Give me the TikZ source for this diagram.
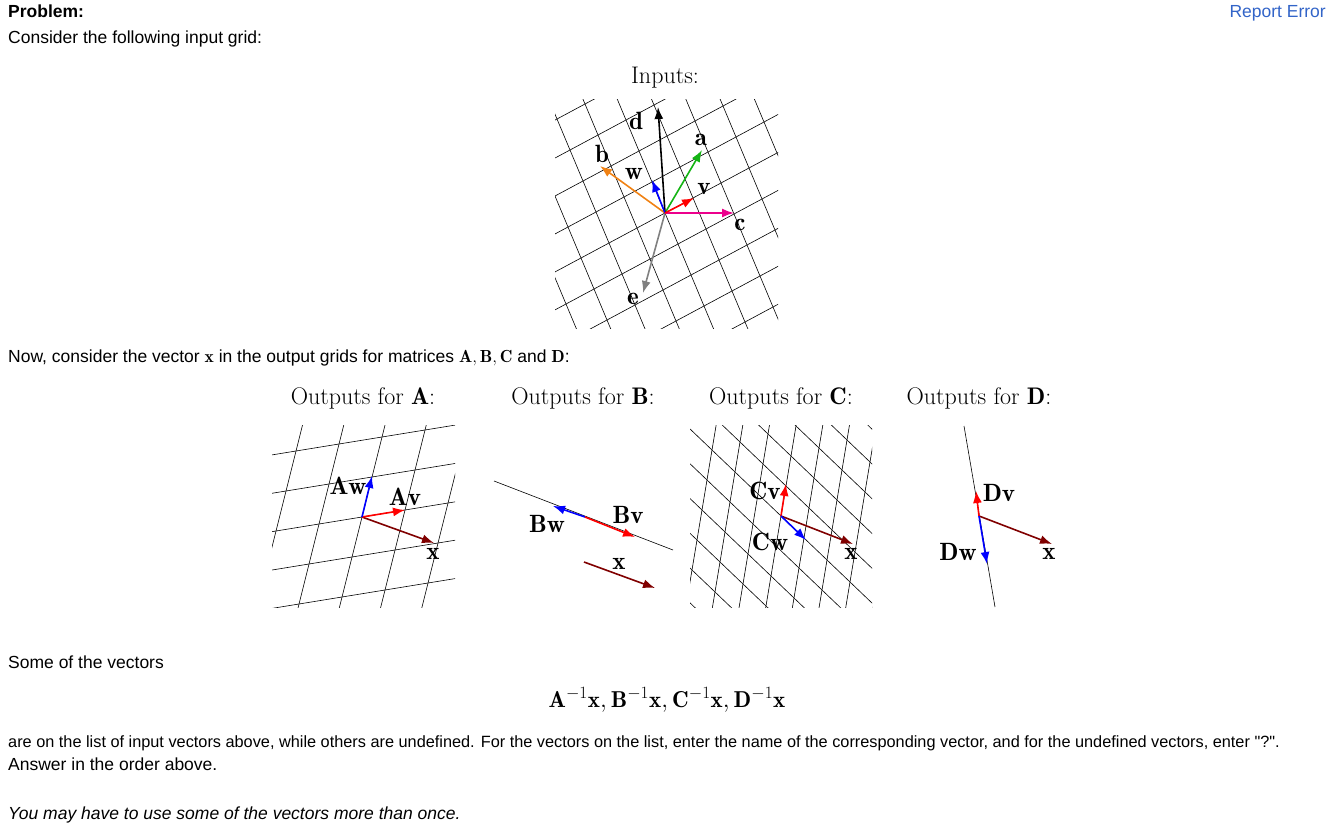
\documentclass[tikz,border=0pt]{standalone}
\usepackage{fontspec}
\usetikzlibrary{calc,arrows.meta}
\newfontfamily\uisans{Liberation Sans}
\definecolor{linkblue}{RGB}{50,100,200}
\definecolor{dred}{RGB}{128,0,0}
\definecolor{vorange}{RGB}{240,130,20}
\definecolor{vgreen}{RGB}{20,180,20}
\begin{document}
\begin{tikzpicture}[x=1pt,y=-1pt,
  ui/.style={anchor=base west,inner sep=0pt,font=\uisans\fontsize{17.5}{20}\selectfont},
  ttl/.style={inner sep=0pt,font=\fontsize{24}{28}\selectfont},
  lab/.style={inner sep=0pt,font=\fontsize{25}{28}\selectfont},
  gridl/.style={black,line width=0.6pt},
  vec/.style={line width=1.6pt,-{Latex[length=12pt,width=9pt]}}]
\useasboundingbox (0,0) rectangle (1334,829);
% texts
\node[ui,font=\uisans\bfseries\fontsize{17.5}{20}\selectfont] (prob) at (8,18) {Problem:};
\node[ui,anchor=base east,text=linkblue] (rep) at (1326,18) {Report Error};
\node[ui] (t1) at (8,44) {Consider the following input grid:};
\node[ui] (t2) at (8,362) {Now, consider the vector $\mathbf{x}$ in the output grids for matrices $\mathbf{A},\mathbf{B},\mathbf{C}$ and $\mathbf{D}$:};
\node[ui] (t3) at (8,668) {Some of the vectors};
\node[inner sep=0pt,font=\fontsize{23}{26}\selectfont] (frm) at (667,700) {$\mathbf{A}^{-1}\mathbf{x},\mathbf{B}^{-1}\mathbf{x},\mathbf{C}^{-1}\mathbf{x},\mathbf{D}^{-1}\mathbf{x}$};
\node[ui,font=\uisans\fontsize{16.3}{20}\selectfont] (t4) at (8,747) {are on the list of input vectors above, while others are undefined. For the vectors on the list, enter the name of the corresponding vector, and for the undefined vectors, enter "?".};
\node[ui] (t5) at (8,770) {Answer in the order above.};
\node[ui,font=\uisans\itshape\fontsize{17.5}{20}\selectfont] (t6) at (8,819) {You may have to use some of the vectors more than once.};
% titles
\node[ttl] (ti) at (665,78) {Inputs:};
\node[ttl] (ta) at (363,398) {Outputs for $\mathbf{A}$:};
\node[ttl] (tb) at (583,398) {Outputs for $\mathbf{B}$:};
\node[ttl] (tc) at (781,398) {Outputs for $\mathbf{C}$:};
\node[ttl] (td) at (979,398) {Outputs for $\mathbf{D}$:};
% ---------- Inputs
\coordinate (O) at (665,213);
\coordinate (gu) at (28,-15);
\coordinate (gv) at (-13,-31);
\begin{scope}
\clip (555,100) rectangle (778,328);
\foreach \i in {-9,...,9}{
  \draw[gridl] ($(O)+\i*(gu)-9*(gv)$) -- ($(O)+\i*(gu)+9*(gv)$);
  \draw[gridl] ($(O)+\i*(gv)-9*(gu)$) -- ($(O)+\i*(gv)+9*(gu)$);}
\end{scope}
\coordinate (d) at (658,107);
\coordinate (a) at (702,150);
\coordinate (b) at (600,166);
\coordinate (w) at (652,180);
\coordinate (v) at (694,198);
\coordinate (c) at (734,213);
\coordinate (e) at (643,293);
\draw[vec,gray] (O) -- (e);
\draw[vec,vorange] (O) -- (b);
\draw[vec,vgreen] (O) -- (a);
\draw[vec,magenta] (O) -- (c);
\draw[vec,black] (O) -- (d);
\draw[vec,blue] (O) -- (w);
\draw[vec,red] (O) -- (v);
\node[lab] (ld) at (636,121) {$\mathbf{d}$};
\node[lab] (la) at (701,140) {$\mathbf{a}$};
\node[lab] (lb) at (602,154) {$\mathbf{b}$};
\node[lab] (lw) at (634,174) {$\mathbf{w}$};
\node[lab] (lv) at (704,189) {$\mathbf{v}$};
\node[lab] (lc) at (740,225) {$\mathbf{c}$};
\node[lab] (le) at (633,299) {$\mathbf{e}$};
% ---------- A
\coordinate (OA) at (362,517);
\coordinate (Au) at (43,-7);
\coordinate (Aw0) at (10,-40);
\begin{scope}
\clip (272,425) rectangle (455,607);
\foreach \i in {-6,...,6}{
  \draw[gridl] ($(OA)+\i*(Au)-6*(Aw0)$) -- ($(OA)+\i*(Au)+6*(Aw0)$);
  \draw[gridl] ($(OA)+\i*(Aw0)-6*(Au)$) -- ($(OA)+\i*(Aw0)+6*(Au)$);}
\end{scope}
\coordinate (Av) at (405,510);
\coordinate (Aw) at (372,476);
\coordinate (Ax) at (434,543);
\draw[vec,dred] (OA) -- (Ax);
\draw[vec,red] (OA) -- (Av);
\draw[vec,blue] (OA) -- (Aw);
\node[lab] (lAw) at (348,486) {$\mathbf{Aw}$};
\node[lab] (lAv) at (405,497) {$\mathbf{Av}$};
\node[lab] (lAx) at (433,554) {$\mathbf{x}$};
% ---------- B
\coordinate (B1) at (494,481);
\coordinate (B2) at (673,550);
\draw[gridl] (B1) -- (B2);
\coordinate (OB) at (585,517);
\coordinate (Bw) at (553,506);
\coordinate (Bv) at (635,537);
\coordinate (Bx0) at (584,562);
\coordinate (Bx) at (655,588);
\draw[vec,blue] (OB) -- (Bw);
\draw[vec,red] (OB) -- (Bv);
\draw[vec,dred] (Bx0) -- (Bx);
\node[lab] (lBw) at (547,524) {$\mathbf{Bw}$};
\node[lab] (lBv) at (628,515) {$\mathbf{Bv}$};
\node[lab] (lBx) at (619,564) {$\mathbf{x}$};
% ---------- C
\coordinate (OC) at (781,516);
\coordinate (Cu) at (5,-30);
\coordinate (Cw0) at (23,22);
\begin{scope}
\clip (690,425) rectangle (872,607);
\foreach \i in {-8,...,8}{
  \draw[gridl] ($(OC)+\i*(Cu)-8*(Cw0)$) -- ($(OC)+\i*(Cu)+8*(Cw0)$);
  \draw[gridl] ($(OC)+\i*(Cw0)-8*(Cu)$) -- ($(OC)+\i*(Cw0)+8*(Cu)$);}
\end{scope}
\coordinate (Cv) at (786,484);
\coordinate (Cw) at (806,540);
\coordinate (Cx) at (853,544);
\draw[vec,dred] (OC) -- (Cx);
\draw[vec,red] (OC) -- (Cv);
\draw[vec,blue] (OC) -- (Cw);
\node[lab] (lCv) at (765,491) {$\mathbf{Cv}$};
\node[lab] (lCw) at (770,542) {$\mathbf{Cw}$};
\node[lab] (lCx) at (851,554) {$\mathbf{x}$};
% ---------- D
\coordinate (D1) at (964,426);
\coordinate (D2) at (995,607);
\draw[gridl] (D1) -- (D2);
\coordinate (OD) at (979,516);
\coordinate (Dv) at (976,491);
\coordinate (Dw) at (987,564);
\coordinate (Dx) at (1052,544);
\draw[vec,dred] (OD) -- (Dx);
\draw[vec,red] (OD) -- (Dv);
\draw[vec,blue] (OD) -- (Dw);
\node[lab] (lDv) at (999,493) {$\mathbf{Dv}$};
\node[lab] (lDw) at (958,552) {$\mathbf{Dw}$};
\node[lab] (lDx) at (1049,554) {$\mathbf{x}$};
\end{tikzpicture}
\end{document}
